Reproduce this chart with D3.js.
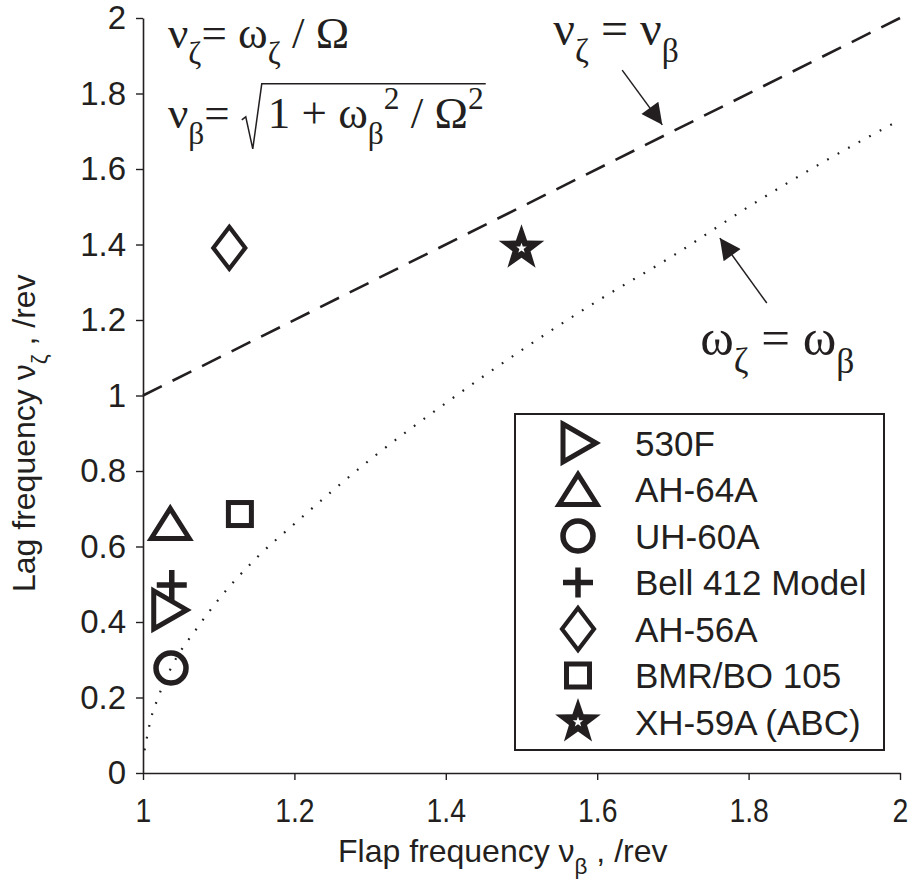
<!DOCTYPE html>
<html>
<head>
<meta charset="utf-8">
<script src="https://cdn.jsdelivr.net/npm/d3@7"></script>
<style>
  body { margin: 0; background: #fff; }
  svg { display: block; }
</style>
</head>
<body>
<div id="container"></div>
<script>
var width = 912, height = 887;
var ink = "#231f20";

// rotor blade models
var models = ["530F", "AH-64A", "UH-60A", "Bell 412 Model", "AH-56A", "BMR/BO 105", "XH-59A (ABC)"];
var flapFreq = [1.034, 1.036, 1.037, 1.038, 1.114, 1.128, 1.50];
var lagFreq = [0.432, 0.661, 0.278, 0.498, 1.391, 0.686, 1.39];
var markerType = ["triRight", "triUp", "circle", "plus", "diamond", "square", "star"];

// nu_zeta = nu_beta
var equalNuX = [1, 2];
var equalNuY = [1, 2];
// omega_zeta = omega_beta
var equalOmX = [1.002, 1.01, 1.02, 1.04, 1.07, 1.1, 1.15, 1.2, 1.3, 1.4, 1.5, 1.6, 1.7, 1.8, 1.9, 2.0];
var equalOmY = [0.06, 0.14, 0.2, 0.29, 0.38, 0.46, 0.57, 0.66, 0.83, 0.98, 1.12, 1.25, 1.37, 1.5, 1.62, 1.73];

var xTicks = [1, 1.2, 1.4, 1.6, 1.8, 2];
var xTickLabels = ["1", "1.2", "1.4", "1.6", "1.8", "2"];
var yTicks = [0, 0.2, 0.4, 0.6, 0.8, 1, 1.2, 1.4, 1.6, 1.8, 2];
var yTickLabels = ["0", "0.2", "0.4", "0.6", "0.8", "1", "1.2", "1.4", "1.6", "1.8", "2"];

var svg = d3.select("#container").append("svg")
    .attr("width", width)
    .attr("height", height);

var x = d3.scaleLinear().domain([1, 2]).range([143, 900]);
var y = d3.scaleLinear().domain([0, 2]).range([773, 18]);

var sans = "'Liberation Sans', Arial, Helvetica, sans-serif";
var serif = "'Liberation Serif', 'Times New Roman', serif";

// axes
var xAxis = svg.append("g")
    .attr("transform", "translate(0," + y(0) + ")")
    .call(d3.axisBottom(x).tickValues(xTicks).tickSize(7).tickSizeOuter(0).tickPadding(19)
        .tickFormat(function(d, i) { return xTickLabels[i]; }));
var yAxis = svg.append("g")
    .attr("transform", "translate(" + x(1) + ",0)")
    .call(d3.axisLeft(y).tickValues(yTicks).tickSize(7).tickSizeOuter(0).tickPadding(10)
        .tickFormat(function(d, i) { return yTickLabels[i]; }));

[xAxis, yAxis].forEach(function(a) {
    a.select(".domain").attr("stroke", ink).attr("stroke-width", 1.6);
    a.selectAll(".tick line").attr("stroke", ink).attr("stroke-width", 1.4);
    a.selectAll(".tick text").attr("fill", ink).style("font-family", sans).style("font-size", "33px");
});
xAxis.selectAll(".tick text").attr("transform", "scale(0.86,1)");

// text with greek subscripts / superscripts
function formula(parent, px, py, parts, size, family) {
    var t = parent.append("text")
        .attr("x", px).attr("y", py)
        .attr("fill", ink)
        .style("font-family", family)
        .style("font-size", size + "px");
    var shift = 0;
    parts.forEach(function(p) {
        var target = p[1] == "sub" ? size * 0.36 : p[1] == "sup" ? -size * 0.42 : 0;
        t.append("tspan")
            .attr("dy", target - shift)
            .style("font-size", (p[1] ? size * 0.7 : size) + "px")
            .text(p[0]);
        shift = target;
    });
    return t;
}

formula(svg, 338, 862, [["Flap frequency ν"], ["β", "sub"], [" , /rev"]], 32, sans);

var yTitle = svg.append("g").attr("transform", "translate(35,592) rotate(-90)");
formula(yTitle, 0, 0, [["Lag frequency ν"], ["ζ", "sub"], [" , /rev"]], 32, sans);

// reference lines
var line = d3.line().x(function(d) { return x(d[0]); }).y(function(d) { return y(d[1]); });

svg.append("path")
    .datum(d3.zip(equalNuX, equalNuY))
    .attr("d", line)
    .attr("fill", "none")
    .attr("stroke", ink)
    .attr("stroke-width", 2.6)
    .attr("stroke-dasharray", "21,12");

svg.append("path")
    .datum(d3.zip(equalOmX, equalOmY))
    .attr("d", line.curve(d3.curveMonotoneX))
    .attr("fill", "none")
    .attr("stroke", ink)
    .attr("stroke-width", 2.2)
    .attr("stroke-dasharray", "1.8,10.2");

// markers
function starPoints(R, r) {
    var pts = [];
    for (var i = 0; i < 10; i++) {
        var a = -Math.PI / 2 + i * Math.PI / 5;
        var rr = i % 2 ? r : R;
        pts.push([rr * Math.cos(a), rr * Math.sin(a)]);
    }
    return "M" + pts.join("L") + "Z";
}

function drawMarker(g, type) {
    var sw = 5;
    if (type == "triRight") {
        g.append("path").attr("d", "M-15,-19L18,0L-15,19Z")
            .attr("fill", "none").attr("stroke", ink).attr("stroke-width", sw).attr("stroke-linejoin", "miter");
    } else if (type == "triUp") {
        g.append("path").attr("d", "M-19,15L0,-15L19,15Z")
            .attr("fill", "none").attr("stroke", ink).attr("stroke-width", sw).attr("stroke-linejoin", "miter");
    } else if (type == "circle") {
        g.append("circle").attr("r", 15)
            .attr("fill", "none").attr("stroke", ink).attr("stroke-width", 5.5);
    } else if (type == "plus") {
        g.append("path").attr("d", "M-15,0H15M0,-15V15")
            .attr("fill", "none").attr("stroke", ink).attr("stroke-width", 5.5);
    } else if (type == "diamond") {
        g.append("path").attr("d", "M0,-21L16,0L0,21L-16,0Z")
            .attr("fill", "none").attr("stroke", ink).attr("stroke-width", 4.2);
    } else if (type == "square") {
        g.append("rect").attr("x", -11.5).attr("y", -11.5).attr("width", 23).attr("height", 23)
            .attr("fill", "none").attr("stroke", ink).attr("stroke-width", sw);
    } else if (type == "star") {
        g.append("path").attr("d", starPoints(24, 9.5)).attr("fill", ink);
        g.append("path").attr("d", starPoints(5.5, 2.2)).attr("fill", "#fff");
    }
}

models.forEach(function(m, i) {
    var g = svg.append("g")
        .attr("transform", "translate(" + x(flapFreq[i]) + "," + y(lagFreq[i]) + ")");
    drawMarker(g, markerType[i]);
});

// legend
var legend = svg.append("g");
legend.append("rect")
    .attr("x", 515).attr("y", 414).attr("width", 369).attr("height", 336)
    .attr("fill", "#fff").attr("stroke", ink).attr("stroke-width", 2);

models.forEach(function(m, i) {
    var cy = 443 + i * 46.5;
    var g = legend.append("g").attr("transform", "translate(578," + cy + ")");
    drawMarker(g, markerType[i]);
    legend.append("text")
        .attr("x", 635).attr("y", cy + 12.5)
        .attr("fill", ink)
        .style("font-family", sans)
        .style("font-size", "35px")
        .text(m);
});

// definitions, top left
formula(svg, x(1.033), y(1.92), [["ν"], ["ζ", "sub"], ["= ω"], ["ζ", "sub"], [" / Ω"]], 45, serif);

var base2 = y(1.709);
var def2 = formula(svg, x(1.033), base2, [["ν"], ["β", "sub"], ["= "]], 45, serif);
var r0 = x(1.033) + def2.node().getComputedTextLength() + 16;
var rad = formula(svg, r0 + 22, base2, [["1 + ω"], ["β", "sub"], ["2", "sup"], [" / Ω"], ["2", "sup"]], 45, serif);
var radEnd = r0 + 22 + rad.node().getComputedTextLength() + 2;
svg.append("path")
    .attr("d", "M" + (r0 - 4) + "," + (base2 - 8) + "l4,-3l7,32l9,-" + (base2 + 21 - (base2 - 44)) + "H" + radEnd)
    .attr("fill", "none").attr("stroke", ink).attr("stroke-width", 1.5);

// annotations with arrows
svg.append("defs").append("marker")
    .attr("id", "head")
    .attr("viewBox", "0 0 10 10")
    .attr("refX", 10).attr("refY", 5)
    .attr("markerWidth", 28).attr("markerHeight", 21)
    .attr("markerUnits", "userSpaceOnUse")
    .attr("orient", "auto")
    .append("path").attr("d", "M0,0L10,5L0,10Z").attr("fill", ink);

formula(svg, x(1.542), y(1.928), [["ν"], ["ζ", "sub"], [" = ν"], ["β", "sub"]], 48, serif);
svg.append("line")
    .attr("x1", x(1.633)).attr("y1", y(1.862))
    .attr("x2", x(1.686)).attr("y2", y(1.717))
    .attr("stroke", ink).attr("stroke-width", 1.5)
    .attr("marker-end", "url(#head)");

formula(svg, x(1.736), y(1.107), [["ω"], ["ζ", "sub"], [" = ω"], ["β", "sub"]], 51, serif);
svg.append("line")
    .attr("x1", x(1.824)).attr("y1", y(1.245))
    .attr("x2", x(1.762)).attr("y2", y(1.417))
    .attr("stroke", ink).attr("stroke-width", 1.5)
    .attr("marker-end", "url(#head)");
</script>
</body>
</html>
